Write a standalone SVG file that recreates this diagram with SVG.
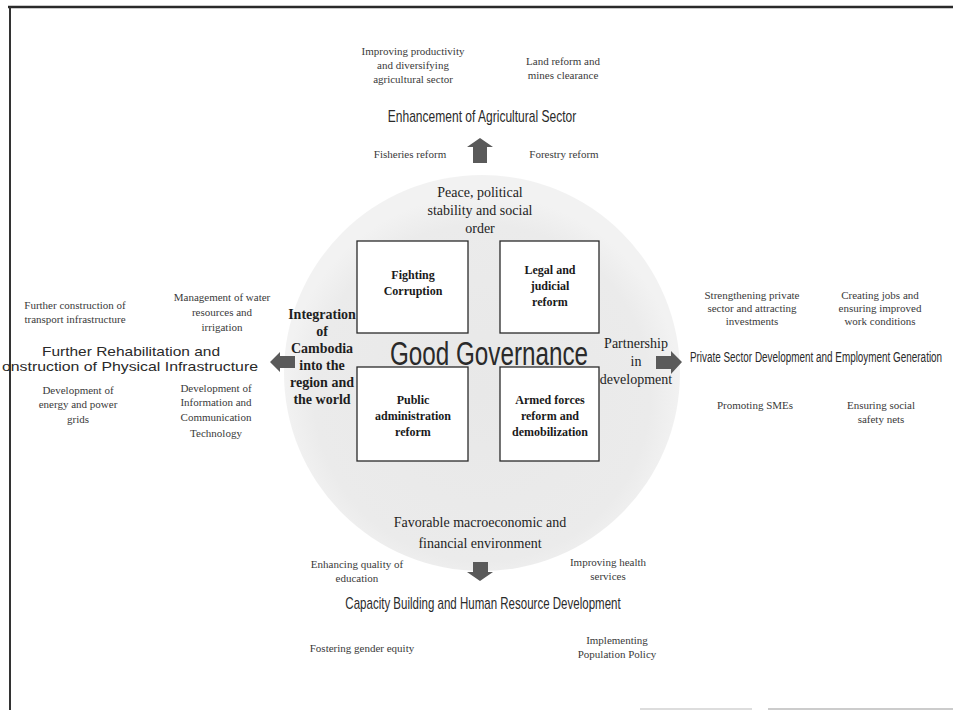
<svg xmlns="http://www.w3.org/2000/svg" width="953" height="710" viewBox="0 0 953 710">
<defs>
<radialGradient id="cg" cx="0.5" cy="0.55" r="0.5">
<stop offset="0" stop-color="#e8e8e8"/>
<stop offset="0.85" stop-color="#ebebeb"/>
<stop offset="1" stop-color="#f2f2f2"/>
</radialGradient>
<style>
.ser{font-family:"Liberation Serif","Times New Roman",serif;text-anchor:middle}
.it{font-size:11px;fill:#3a3a3a}
.mid{font-size:14px;fill:#1e1e1e}
.bx{font-size:12px;fill:#1a1a1a;font-weight:bold}
.ttl{font-family:"Liberation Sans",Arial,sans-serif;fill:#2a2a2a}
.box{fill:#ffffff;stroke:#2a2a2a;stroke-width:1.3}
.arr{fill:#5a5a5a}
</style>
</defs>
<rect x="0" y="0" width="953" height="710" fill="#ffffff"/>
<g id="frame">
<line x1="8" y1="7" x2="953" y2="7" stroke="#2a2a2a" stroke-width="2.5"/>
<line x1="10" y1="7" x2="10" y2="710" stroke="#333" stroke-width="2"/>
<line x1="640" y1="709" x2="752" y2="709" stroke="#bbb" stroke-width="1"/>
<line x1="768" y1="709" x2="953" y2="709" stroke="#999" stroke-width="1.2"/>
</g>
<g id="circle">
<circle cx="482" cy="373" r="198" fill="url(#cg)"/>
</g>
<g id="good-governance">
<text transform="translate(489,365) scale(0.713,1)" x="0" y="0" class="ttl" font-size="34" text-anchor="middle" fill="#383838">Good Governance</text>
</g>
<g id="peace">
<text class="ser mid"><tspan x="480" y="197">Peace, political</tspan><tspan x="480" y="215">stability and social</tspan><tspan x="480" y="233">order</tspan></text>
</g>
<g id="integration">
<text class="ser mid" font-weight="bold" font-size="13"><tspan x="322" y="319">Integration</tspan><tspan x="322" y="336">of</tspan><tspan x="322" y="353">Cambodia</tspan><tspan x="322" y="370">into the</tspan><tspan x="322" y="387">region and</tspan><tspan x="322" y="404">the world</tspan></text>
</g>
<g id="partnership">
<text class="ser mid" font-size="13.5"><tspan x="636" y="348">Partnership</tspan><tspan x="636" y="366">in</tspan><tspan x="636" y="384">development</tspan></text>
</g>
<g id="favorable">
<text class="ser mid"><tspan x="480" y="527">Favorable macroeconomic and</tspan><tspan x="480" y="548">financial environment</tspan></text>
</g>
<g id="box-fighting-corruption">
<rect class="box" x="357" y="241" width="111" height="92"/>
<text class="ser bx"><tspan x="413" y="279">Fighting</tspan><tspan x="413" y="295">Corruption</tspan></text>
</g>
<g id="box-legal-judicial">
<rect class="box" x="500" y="241" width="99" height="92"/>
<text class="ser bx"><tspan x="550" y="274">Legal and</tspan><tspan x="550" y="290">judicial</tspan><tspan x="550" y="306">reform</tspan></text>
</g>
<g id="box-public-admin">
<rect class="box" x="357" y="367" width="111" height="94"/>
<text class="ser bx"><tspan x="413" y="404">Public</tspan><tspan x="413" y="420">administration</tspan><tspan x="413" y="436">reform</tspan></text>
</g>
<g id="box-armed-forces">
<rect class="box" x="500" y="367" width="99" height="94"/>
<text class="ser bx"><tspan x="550" y="404">Armed forces</tspan><tspan x="550" y="420">reform and</tspan><tspan x="550" y="436">demobilization</tspan></text>
</g>
<g id="agri">
<text transform="translate(482,122) scale(0.752,1)" x="0" y="0" class="ttl" font-size="16" text-anchor="middle">Enhancement of Agricultural Sector</text>
<text class="ser it"><tspan x="413" y="55">Improving productivity</tspan><tspan x="413" y="69">and diversifying</tspan><tspan x="413" y="83">agricultural sector</tspan></text>
<text class="ser it"><tspan x="563" y="65">Land reform and</tspan><tspan x="563" y="79">mines clearance</tspan></text>
<text class="ser it" x="410" y="158">Fisheries reform</text>
<text class="ser it" x="564" y="158">Forestry reform</text>
</g>
<g id="infra">
<text class="ttl" font-size="13" text-anchor="middle" x="131" y="356" textLength="178" lengthAdjust="spacingAndGlyphs">Further Rehabilitation and</text>
<text class="ttl" font-size="13" x="2" y="371" textLength="256" lengthAdjust="spacingAndGlyphs">onstruction of Physical Infrastructure</text>
<text class="ser it"><tspan x="75" y="309">Further construction of</tspan><tspan x="75" y="323">transport infrastructure</tspan></text>
<text class="ser it"><tspan x="222" y="301">Management of water</tspan><tspan x="222" y="316">resources and</tspan><tspan x="222" y="331">irrigation</tspan></text>
<text class="ser it"><tspan x="78" y="394">Development of</tspan><tspan x="78" y="408">energy and power</tspan><tspan x="78" y="423">grids</tspan></text>
<text class="ser it"><tspan x="216" y="392">Development of</tspan><tspan x="216" y="406">Information and</tspan><tspan x="216" y="421">Communication</tspan><tspan x="216" y="437">Technology</tspan></text>
</g>
<g id="private">
<text transform="translate(816,362) scale(0.661,1)" x="0" y="0" class="ttl" font-size="15" text-anchor="middle">Private Sector Development and Employment Generation</text>
<text class="ser it"><tspan x="752" y="299">Strengthening private</tspan><tspan x="752" y="312">sector and attracting</tspan><tspan x="752" y="325">investments</tspan></text>
<text class="ser it"><tspan x="880" y="299">Creating jobs and</tspan><tspan x="880" y="312">ensuring improved</tspan><tspan x="880" y="325">work conditions</tspan></text>
<text class="ser it" x="755" y="409">Promoting SMEs</text>
<text class="ser it"><tspan x="881" y="409">Ensuring social</tspan><tspan x="881" y="423">safety nets</tspan></text>
</g>
<g id="capacity">
<text transform="translate(483,609) scale(0.72,1)" x="0" y="0" class="ttl" font-size="16" text-anchor="middle">Capacity Building and Human Resource Development</text>
<text class="ser it"><tspan x="357" y="568">Enhancing quality of</tspan><tspan x="357" y="582">education</tspan></text>
<text class="ser it"><tspan x="608" y="566">Improving health</tspan><tspan x="608" y="580">services</tspan></text>
<text class="ser it" x="362" y="652">Fostering gender equity</text>
<text class="ser it"><tspan x="617" y="644">Implementing</tspan><tspan x="617" y="658">Population Policy</tspan></text>
</g>
<g id="connectors">
<polygon class="arr" points="480,138 493,147 487,147 487,163 473,163 473,147 467,147"/>
<polygon class="arr" points="473,562 488,562 488,572 493,572 480,581 467,572 473,572"/>
<polygon class="arr" points="270,362 280,352 280,356 295,356 295,368 280,368 280,372"/>
<polygon class="arr" points="682,362 671,351 671,356 656,356 656,369 671,369 671,374"/>
</g>
</svg>
